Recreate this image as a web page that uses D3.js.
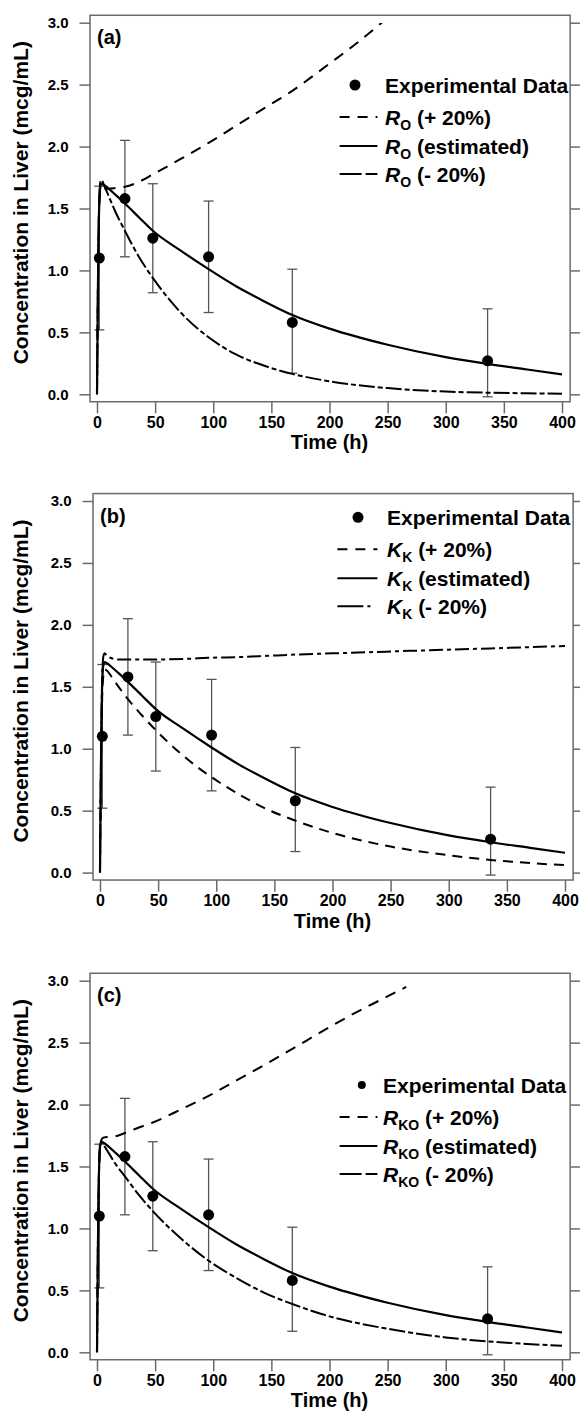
<!DOCTYPE html>
<html><head><meta charset="utf-8">
<script src="https://cdn.jsdelivr.net/npm/d3@7"></script>
<style>
body{margin:0;background:#fff;}
svg{display:block;}
text{font-family:"Liberation Sans",Arial,sans-serif;font-weight:bold;fill:#000;}
</style></head><body>
<svg id="chart" width="580" height="1421"></svg>
<script>
// ---------- data ----------
const obsTimes  = [2, 24, 48, 96, 168, 336];
const obsValues = [1.10, 1.58, 1.26, 1.11, 0.58, 0.27];
const obsLower  = [0.52, 1.11, 0.82, 0.66, 0.17, -0.02];
const obsUpper  = [1.68, 2.05, 1.70, 1.56, 1.01, 0.69];

const xTicks = [0, 50, 100, 150, 200, 250, 300, 350, 400];
const yTicks = [0.0, 0.5, 1.0, 1.5, 2.0, 2.5, 3.0];

const curveTimes = [0, 1, 2, 3, 4, 6, 10, 16, 24, 36, 48, 72, 96, 120, 144, 168, 200, 250, 300, 336, 370, 400];
const estimatedValues = [0, 1.05, 1.55, 1.68, 1.70, 1.69, 1.66, 1.61, 1.54, 1.43, 1.32, 1.16, 1.01, 0.87, 0.75, 0.64, 0.53, 0.40, 0.30, 0.245, 0.20, 0.16];

// panel (a): R_O
const aPlusTimes  = [0, 1, 2, 3, 4, 6, 10, 16, 24, 36, 48, 72, 96, 120, 144, 168, 200, 220, 245];
const aPlusValues = [0, 1.05, 1.55, 1.65, 1.66, 1.66, 1.66, 1.665, 1.675, 1.715, 1.775, 1.90, 2.03, 2.17, 2.31, 2.45, 2.67, 2.81, 3.0];
const aMinusValues = [0, 1.05, 1.58, 1.72, 1.73, 1.69, 1.60, 1.47, 1.32, 1.11, 0.94, 0.66, 0.46, 0.32, 0.23, 0.165, 0.105, 0.05, 0.022, 0.013, 0.008, 0.005];

// panel (b): K_K
const bPlusValues  = [0, 1.0, 1.45, 1.60, 1.64, 1.63, 1.58, 1.50, 1.40, 1.27, 1.15, 0.94, 0.77, 0.63, 0.51, 0.42, 0.32, 0.21, 0.14, 0.102, 0.077, 0.06];
const bMinusValues = [0, 1.05, 1.62, 1.75, 1.77, 1.75, 1.73, 1.72, 1.72, 1.72, 1.72, 1.725, 1.735, 1.74, 1.75, 1.76, 1.77, 1.785, 1.80, 1.81, 1.82, 1.83];

// panel (c): R_KO
const cPlusTimes  = [0, 1, 2, 3, 4, 6, 10, 16, 24, 36, 48, 72, 96, 120, 144, 168, 200, 220, 245, 266];
const cPlusValues = [0, 1.05, 1.55, 1.68, 1.72, 1.735, 1.74, 1.745, 1.77, 1.815, 1.855, 1.96, 2.07, 2.195, 2.32, 2.45, 2.625, 2.73, 2.85, 2.95];
const cMinusValues = [0, 1.05, 1.55, 1.68, 1.70, 1.67, 1.61, 1.52, 1.42, 1.27, 1.14, 0.92, 0.74, 0.60, 0.48, 0.39, 0.29, 0.19, 0.12, 0.088, 0.067, 0.052];

const panelLabels = ["(a)", "(b)", "(c)"];
const paramSymbols = ["R", "K", "R"];
const paramSubs = ["O", "K", "KO"];
const legendSuffixes = ["(+ 20%)", "(estimated)", "(- 20%)"];
const legendData = "Experimental Data";
const xTitle = "Time (h)";
const yTitle = "Concentration in Liver (mcg/mL)";

// ---------- layout ----------
const svg = d3.select("#chart");
const zip = (t, v) => t.map((d, i) => ({t: d, v: v[i]}));

const panels = [
  {top: 22.7, x0: 97, plus: zip(aPlusTimes, aPlusValues), minus: zip(curveTimes, aMinusValues),
   plusDash: "11,8", minusDash: "16,3,5,3", minusLeg: "22,4,11,0", legTop: 62.3, mX: 355, tX: 385, lX1: 339.6, lX2: 377.4, mR: 5.5},
  {top: 501, x0: 100, plus: zip(curveTimes, bPlusValues), minus: zip(curveTimes, bMinusValues),
   plusDash: "10,7", minusDash: "14,4,4,4", minusLeg: "26,4,3,10", legTop: 16.3, mX: 358, tX: 387, lX1: 337.4, lX2: 377.4, mR: 5.5},
  {top: 980.7, x0: 97, plus: zip(cPlusTimes, cPlusValues), minus: zip(curveTimes, cMinusValues),
   plusDash: "11,8", minusDash: "16,3,5,3", minusLeg: "22,4,11,0", legTop: 104.3, mX: 361.8, tX: 383, lX1: 339.6, lX2: 377.4, mR: 4}
];
const estimated = zip(curveTimes, estimatedValues);
const gray = "#6a6a6a";

panels.forEach((p, pi) => {
  const x = d3.scaleLinear().domain([0, 400]).range([p.x0, p.x0 + 465]);
  const y = d3.scaleLinear().domain([0, 3]).range([p.top + 371.6, p.top]);
  const fL = x(-6), fR = x(407), fT = y(3.06), fB = y(-0.06);
  const g = svg.append("g");

  const clipId = "clip" + pi;
  svg.append("clipPath").attr("id", clipId).append("rect")
    .attr("x", fL).attr("y", fT).attr("width", fR - fL).attr("height", fB - fT);

  g.append("rect").attr("x", fL).attr("y", fT).attr("width", fR - fL).attr("height", fB - fT)
    .attr("fill", "none").attr("stroke", gray).attr("stroke-width", 1.5);

  const left = g.append("g").attr("transform", `translate(${fL},0)`)
    .call(d3.axisLeft(y).tickValues(yTicks).tickSize(10.5).tickPadding(11).tickFormat(d3.format(".1f")));
  const right = g.append("g").attr("transform", `translate(${fR},0)`)
    .call(d3.axisRight(y).tickValues(yTicks).tickSize(10).tickFormat(""));
  const bottom = g.append("g").attr("transform", `translate(0,${fB})`)
    .call(d3.axisBottom(x).tickValues(xTicks).tickSize(11.6).tickPadding(3));
  [left, right, bottom].forEach(a => {
    a.select(".domain").remove();
    a.selectAll(".tick line").attr("stroke", gray).attr("stroke-width", 1.5);
    a.selectAll("text").style("font-family", '"Liberation Sans",Arial,sans-serif').style("font-weight", "bold").attr("fill", "#000");
  });
  left.selectAll("text").style("font-size", "15px");
  bottom.selectAll("text").style("font-size", "16px");

  g.append("text").attr("transform", `translate(20.5,${p.top + 180}) rotate(-90)`)
    .attr("text-anchor", "middle").attr("dominant-baseline", "central")
    .style("font-size", "21px").text(yTitle);
  g.append("text").attr("x", x(200)).attr("y", y(0) + 55).attr("text-anchor", "middle")
    .style("font-size", "20px").text(xTitle);
  g.append("text").attr("x", x(0)).attr("y", p.top + 21.5).style("font-size", "20px").text(panelLabels[pi]);

  const obs = obsTimes.map((t, i) => ({t, v: obsValues[i], lo: obsLower[i], hi: obsUpper[i]}));
  const eb = g.append("g").attr("stroke", "#555").attr("stroke-width", 1.3);
  obs.forEach(d => {
    eb.append("line").attr("x1", x(d.t)).attr("x2", x(d.t)).attr("y1", y(d.lo)).attr("y2", y(d.hi));
    eb.append("line").attr("x1", x(d.t) - 5).attr("x2", x(d.t) + 5).attr("y1", y(d.lo)).attr("y2", y(d.lo));
    eb.append("line").attr("x1", x(d.t) - 5).attr("x2", x(d.t) + 5).attr("y1", y(d.hi)).attr("y2", y(d.hi));
  });

  const line = d3.line().x(d => x(d.t)).y(d => y(d.v)).curve(d3.curveMonotoneX);
  const cg = g.append("g").attr("clip-path", `url(#${clipId})`).attr("fill", "none").attr("stroke", "#000");
  cg.append("path").datum(p.plus).attr("d", line).attr("stroke-width", 2).attr("stroke-dasharray", p.plusDash);
  cg.append("path").datum(p.minus).attr("d", line).attr("stroke-width", 2).attr("stroke-dasharray", p.minusDash);
  cg.append("path").datum(estimated).attr("d", line).attr("stroke-width", 2.2);

  g.append("g").selectAll("circle").data(obs).join("circle")
    .attr("cx", d => x(d.t)).attr("cy", d => y(d.v)).attr("r", 5.5).attr("fill", "#000");

  const rows = [0, 32, 61, 89].map(o => p.top + p.legTop + o);
  g.append("circle").attr("cx", p.mX).attr("cy", rows[0]).attr("r", p.mR).attr("fill", "#000");
  g.append("text").attr("x", p.tX).attr("y", rows[0] + 7.5).style("font-size", "21px").text(legendData);
  const dashes = ["10,8", null, p.minusLeg];
  legendSuffixes.forEach((s, i) => {
    const ry = rows[i + 1];
    const l = g.append("line").attr("x1", p.lX1).attr("x2", p.lX2).attr("y1", ry).attr("y2", ry)
      .attr("stroke", "#000").attr("stroke-width", 2);
    if (dashes[i]) l.attr("stroke-dasharray", dashes[i]);
    const t = g.append("text").attr("x", p.tX).attr("y", ry + 7.5).style("font-size", "21px");
    t.append("tspan").style("font-style", "italic").text(paramSymbols[pi]);
    t.append("tspan").attr("dy", 5).style("font-size", "14px").text(paramSubs[pi]);
    t.append("tspan").attr("dy", -5).text(" " + s);
  });
});
</script>
</body></html>
